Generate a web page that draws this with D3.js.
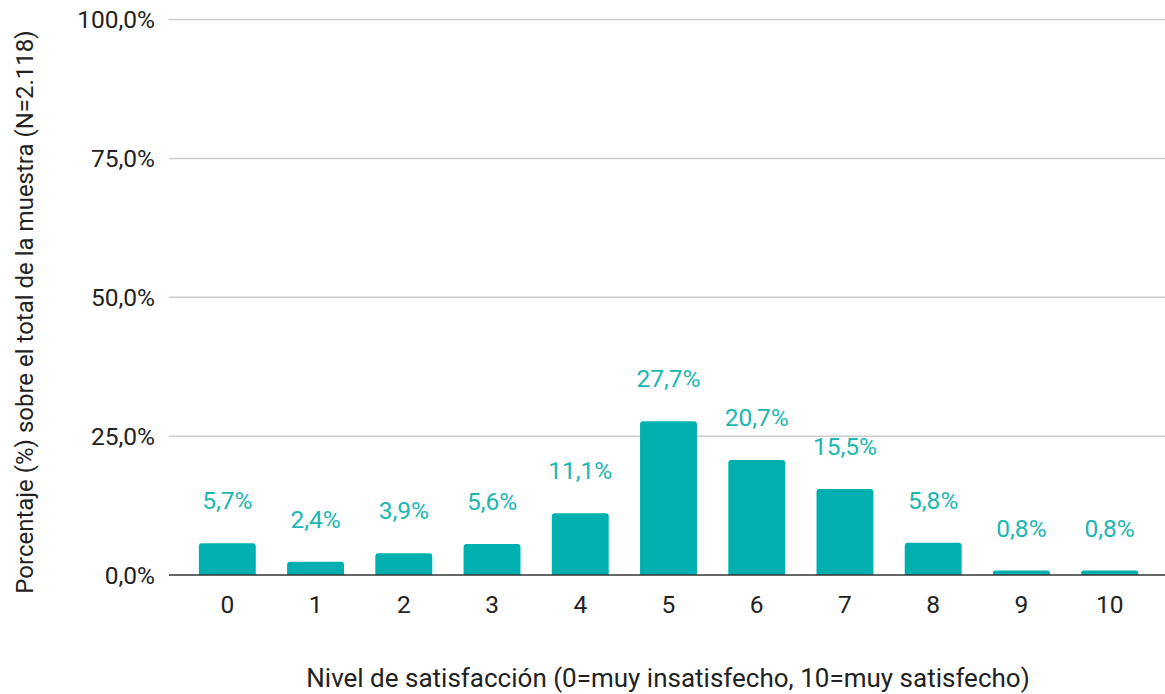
<!DOCTYPE html>
<html>
<head>
<meta charset="utf-8">
<script src="https://cdn.jsdelivr.net/npm/d3@7"></script>
<style>
  html, body { margin: 0; padding: 0; background: #fff; }
  svg { display: block; font-family: Roboto, "Noto Sans", sans-serif; }
</style>
</head>
<body>
<svg id="chart"></svg>
<script>
const categories = ["0", "1", "2", "3", "4", "5", "6", "7", "8", "9", "10"];
const values = [5.7, 2.4, 3.9, 5.6, 11.1, 27.7, 20.7, 15.5, 5.8, 0.8, 0.8];
const yTicks = [0, 25, 50, 75, 100];
const xTitle = "Nivel de satisfacción (0=muy insatisfecho, 10=muy satisfecho)";
const yTitle = "Porcentaje (%) sobre el total de la muestra (N=2.118)";

const width = 1165;
const height = 694;
const plotLeft = 169, plotRight = 1165;
const barColor = "#00b0b0";
const labelColor = "#1bb7b3";

const svg = d3.select("#chart").attr("width", width).attr("height", height);

const x = d3.scaleBand()
  .domain(categories)
  .range([183, 1154])
  .paddingInner(0.355)
  .paddingOuter(0.18);

const y = d3.scaleLinear().domain([0, 100]).range([575, 19.5]);

const fmt = v => d3.format(".1f")(v).replace(".", ",") + "%";

// grid lines
svg.append("g")
  .selectAll("line")
  .data(yTicks.filter(d => d > 0))
  .join("line")
  .attr("x1", plotLeft)
  .attr("x2", plotRight)
  .attr("y1", d => y(d))
  .attr("y2", d => y(d))
  .attr("stroke", "#cccccc")
  .attr("stroke-width", 1.5);

// y tick labels
svg.append("g")
  .selectAll("text")
  .data(yTicks)
  .join("text")
  .attr("x", 155)
  .attr("y", d => y(d))
  .attr("dy", "0.36em")
  .attr("text-anchor", "end")
  .attr("font-size", "24.5px")
  .attr("fill", "#222")
  .text(fmt);

// bars, rounded top corners
const r = 3;
svg.append("g")
  .selectAll("path")
  .data(values)
  .join("path")
  .attr("fill", barColor)
  .attr("d", (d, i) => {
    const x0 = x(categories[i]);
    const w = x.bandwidth();
    const y0 = y(d), yb = y(0);
    const rr = Math.min(r, (yb - y0) / 2);
    return `M${x0},${yb}V${y0 + rr}Q${x0},${y0} ${x0 + rr},${y0}H${x0 + w - rr}Q${x0 + w},${y0} ${x0 + w},${y0 + rr}V${yb}Z`;
  });

// baseline
svg.append("line")
  .attr("x1", plotLeft)
  .attr("x2", plotRight)
  .attr("y1", y(0))
  .attr("y2", y(0))
  .attr("stroke", "#333")
  .attr("stroke-width", 1.5);

// value labels
svg.append("g")
  .selectAll("text")
  .data(values)
  .join("text")
  .attr("x", (d, i) => x(categories[i]) + x.bandwidth() / 2)
  .attr("y", d => y(d) - 34)
  .attr("text-anchor", "middle")
  .attr("font-size", "24.5px")
  .attr("fill", labelColor)
  .text(fmt);

// x tick labels
svg.append("g")
  .selectAll("text")
  .data(categories)
  .join("text")
  .attr("x", d => x(d) + x.bandwidth() / 2)
  .attr("y", 613)
  .attr("text-anchor", "middle")
  .attr("font-size", "24.5px")
  .attr("fill", "#222")
  .text(d => d);

// axis titles
svg.append("text")
  .attr("x", 668)
  .attr("y", 687)
  .attr("text-anchor", "middle")
  .attr("font-size", "26px")
  .attr("fill", "#222")
  .text(xTitle);

svg.append("text")
  .attr("transform", "translate(33,312) rotate(-90)")
  .attr("text-anchor", "middle")
  .attr("font-size", "24px")
  .attr("fill", "#222")
  .text(yTitle);
</script>
</body>
</html>
